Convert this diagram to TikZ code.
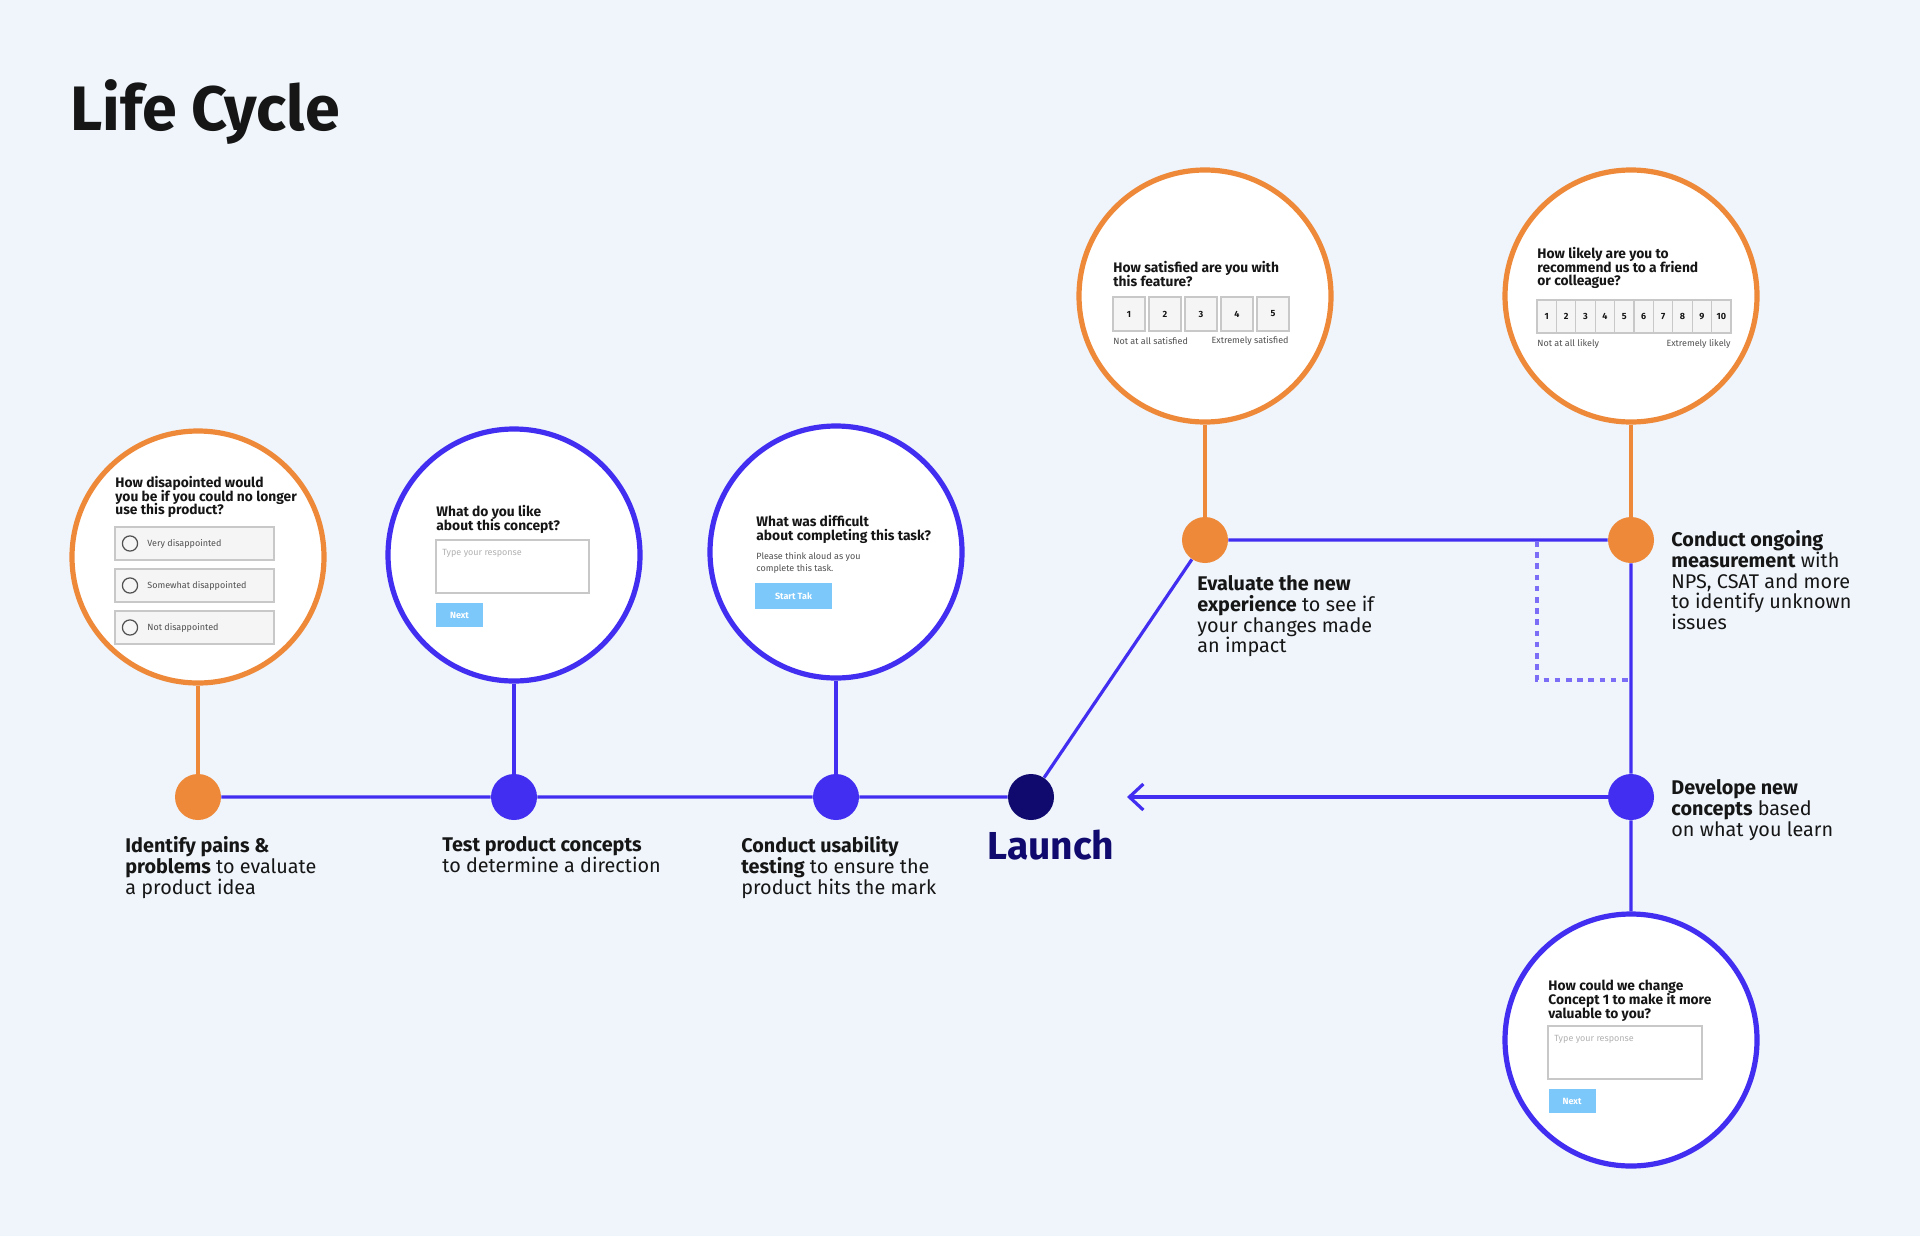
\documentclass[tikz,border=0pt]{standalone}
\usepackage{fontspec}
\setmainfont{Fira Sans}
\usetikzlibrary{arrows.meta}
\definecolor{lcbg}{RGB}{239,245,251}
\definecolor{lcorange}{RGB}{238,137,58}
\definecolor{lcblue}{RGB}{66,46,240}
\definecolor{lcnavy}{RGB}{17,10,110}
\definecolor{lcink}{RGB}{22,22,22}
\definecolor{lcgrey}{RGB}{80,80,80}
\definecolor{lcline}{RGB}{200,200,200}
\definecolor{lcpaper}{RGB}{245,245,245}
\definecolor{lcsky}{RGB}{124,200,250}
\newcommand\lctight{\lineskiplimit=-20pt\relax}

\begin{document}
\begin{tikzpicture}[x=0.5pt, y=-0.5pt,
  ring/.style={circle, draw, line width=2.6pt, fill=white, minimum size=126pt, inner sep=0pt},
  dotnode/.style={circle, minimum size=23pt, inner sep=0pt},
  stem/.style={line width=1.6pt},
  link/.style={line width=1.6pt, lcblue},
  loopback/.style={line width=1.6pt, lcblue, -{Straight Barb[length=7pt,width=13pt]}},
  hintline/.style={line width=1.6pt, lcblue!70, dash pattern=on 2.8pt off 2.8pt},
  steptext/.style={anchor=north west, inner sep=0pt, align=left, text=lcink,
    font=\fontsize{9.9}{10.4}\selectfont\lctight},
  question/.style={anchor=north west, inner sep=0pt, align=left, text=lcink,
    font=\fontsize{6.9}{6.8}\selectfont\bfseries\lctight},
  smalltxt/.style={inner sep=0pt, text=lcgrey, font=\fontsize{4.5}{5.8}\selectfont},
  choice/.style={draw=lcline, fill=lcpaper, line width=0.6pt},
  field/.style={draw=lcline, fill=white, line width=0.6pt},
  scalebox/.style={draw=lcline, fill=lcpaper, line width=0.6pt, inner sep=0pt,
    text=lcink, font=\fontsize{4.5}{5}\selectfont\bfseries},
  button/.style={fill=lcsky, text=white, inner sep=0pt, minimum width=23.5pt,
    minimum height=12pt, font=\fontsize{4.5}{5}\selectfont\bfseries}]

\fill[lcbg] (0,0) rectangle (1920,1236);
\useasboundingbox (0,0) rectangle (1920,1236);

\node[anchor=north west, inner sep=0pt, text=lcink, font=\fontsize{31.4}{36}\selectfont\bfseries]
  (title) at (70,79) {Life Cycle};

\node[ring, draw=lcorange] (c1) at (198,557) {};
\node[ring, draw=lcblue] (c2) at (514,555) {};
\node[ring, draw=lcblue] (c3) at (836,552) {};
\node[ring, draw=lcorange] (c4) at (1205,296) {};
\node[ring, draw=lcorange] (c5) at (1631,296) {};
\node[ring, draw=lcblue] (c6) at (1631,1040) {};

\node[dotnode, fill=lcorange] (d1) at (198,797) {};
\node[dotnode, fill=lcblue] (d2) at (514,797) {};
\node[dotnode, fill=lcblue] (d3) at (836,797) {};
\node[dotnode, fill=lcnavy] (launch) at (1031,797) {};
\node[dotnode, fill=lcorange] (d4) at (1205,540) {};
\node[dotnode, fill=lcorange] (d5) at (1631,540) {};
\node[dotnode, fill=lcblue] (d6) at (1631,797) {};

\coordinate (back) at (1127,797);
\coordinate (dtop) at (1537,541);
\coordinate (dcorner) at (1537,680);
\coordinate (dend) at (1631,680);

\draw[stem, lcorange] (c1) -- (d1);
\draw[stem, lcblue] (c2) -- (d2);
\draw[stem, lcblue] (c3) -- (d3);
\draw[stem, lcorange] (c4) -- (d4);
\draw[stem, lcorange] (c5) -- (d5);
\draw[link] (d1) -- (d2) -- (d3) -- (launch) -- (d4) -- (d5) -- (d6) -- (c6);
\draw[loopback] (d6) -- (back);
\draw[hintline] (dtop) -- (dcorner) -- (dend);

\node[steptext] (t1) at (125,836) {\textbf{Identify pains \&}\\\textbf{problems} to evaluate\\a product idea};
\node[steptext] (t2) at (442,836) {\textbf{Test product concepts}\\to determine a direction};
\node[steptext] (t3) at (741,836) {\textbf{Conduct usability}\\\textbf{testing} to ensure the\\product hits the mark};
\node[anchor=north west, inner sep=0pt, text=lcnavy, font=\fontsize{19.5}{22}\selectfont\bfseries]
  (tlaunch) at (987,830) {Launch};
\node[steptext] (t4) at (1197,575) {\textbf{Evaluate the new}\\\textbf{experience} to see if\\your changes made\\an impact};
\node[steptext] (t5) at (1671,530) {\textbf{Conduct ongoing}\\\textbf{measurement} with\\NPS, CSAT and more\\to identify unknown\\issues};
\node[steptext] (t6) at (1671,779) {\textbf{Develope new}\\\textbf{concepts} based\\on what you learn};

\node[question] (q1) at (115,476) {How disapointed would\\you be if you could no longer\\use this product?};
\foreach \y/\t [count=\i] in {527/Very disappointed, 569/Somewhat disappointed, 611/Not disappointed}{
  \draw[choice] (115,\y) rectangle (274,\y+33);
  \draw[lcgrey, line width=0.6pt] (130,\y+16.5) circle[radius=3.8pt];
  \node[smalltxt, anchor=west] (opt\i) at (147,\y+16.5) {\t};
}

\node[question] (q2) at (436,505) {What do you like\\about this concept?};
\draw[field] (436,540) rectangle (589,593);
\node[smalltxt, anchor=west, text=black!30] (ph2) at (442,553) {Type your response};
\node[button] (b2) at (459.5,615) {Next};

\node[question] (q3) at (756,515) {What was difficult\\about completing this task?};
\node[smalltxt, anchor=north west, align=left] (s3) at (756,552) {Please think aloud as you\\complete this task.};
\node[button, minimum width=38.5pt, minimum height=13pt] (b3) at (793.5,596) {Start Tak};

\node[question] (q4) at (1113,261) {How satisfied are you with\\this feature?};
\foreach \i in {1,...,5}{
  \node[scalebox, minimum width=16pt, minimum height=17pt] (r4\i) at (1113+36*\i-20,314) {\i};
}
\node[smalltxt, anchor=west] (lo4) at (1113,341) {Not at all satisfied};
\node[smalltxt, anchor=east] (hi4) at (1289,341) {Extremely satisfied};

\node[question] (q5) at (1537,247) {How likely are you to\\recommend us to a friend\\or colleague?};
\foreach \i in {1,...,10}{
  \node[scalebox, minimum width=9.7pt, minimum height=16.5pt] (r5\i) at (1537+19.4*\i-9.7,316.5) {\i};
}
\node[smalltxt, anchor=west] (lo5) at (1537,344) {Not at all likely};
\node[smalltxt, anchor=east] (hi5) at (1731,344) {Extremely likely};

\node[question] (q6) at (1548,980) {How could we change\\Concept 1 to make it more\\valuable to you?};
\draw[field] (1548,1026) rectangle (1702,1079);
\node[smalltxt, anchor=west, text=black!30] (ph6) at (1554,1039) {Type your response};
\node[button] (b6) at (1572,1101) {Next};
\end{tikzpicture}
\end{document}
